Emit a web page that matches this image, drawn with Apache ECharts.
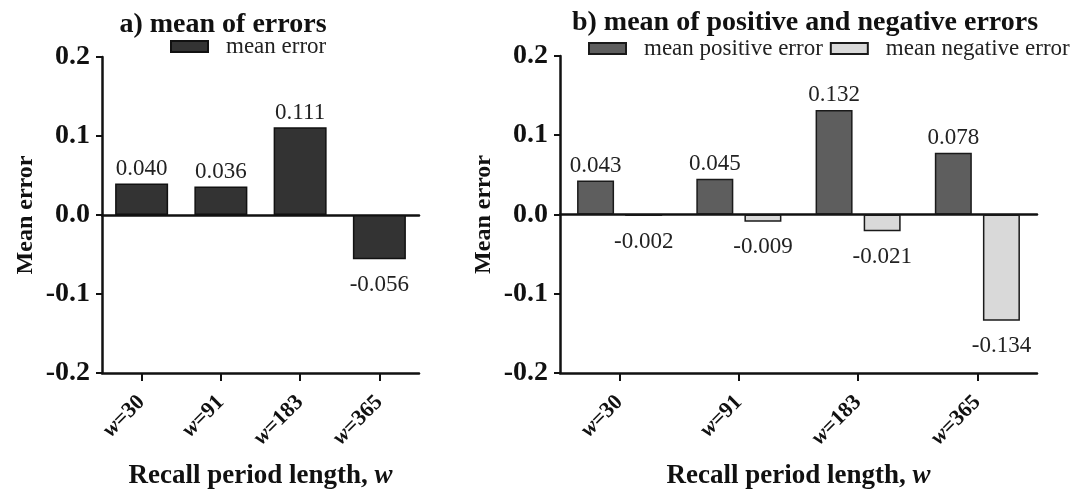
<!DOCTYPE html>
<html>
<head>
<meta charset="utf-8">
<script src="https://cdn.jsdelivr.net/npm/echarts@6/dist/echarts.min.js"></script>
<style>html,body{margin:0;padding:0;background:#fff}#c{width:1072px;height:495px}</style>
</head>
<body>
<div id="c"></div>
<script>
const categories = ['w=30', 'w=91', 'w=183', 'w=365'];
const meanError = [0.040, 0.036, 0.111, -0.056];
const meanPositiveError = [0.043, 0.045, 0.132, 0.078];
const meanNegativeError = [-0.002, -0.009, -0.021, -0.134];
const yTicks = { min: -0.2, max: 0.2, interval: 0.1 };

const FONT = "'Liberation Serif', 'Times New Roman', serif";
const chart = echarts.init(document.getElementById('c'), null, { renderer: 'canvas' });

function items(arr) {
  return arr.map(v => ({
    value: v,
    label: { position: v < 0 ? 'bottom' : 'top', distance: v < 0 ? 14 : 3 }
  }));
}
const catFormatter = v => '{i|' + v.split('=')[0] + '}{b|=' + v.split('=')[1] + '}';
const catRich = {
  i: { fontFamily: FONT, fontStyle: 'italic', fontWeight: 'bold', fontSize: 22, color: '#111' },
  b: { fontFamily: FONT, fontWeight: 'bold', fontSize: 22, color: '#111' }
};
const nameRich = {
  n: { fontFamily: FONT, fontWeight: 'bold', fontSize: 27, color: '#111' },
  i: { fontFamily: FONT, fontWeight: 'bold', fontStyle: 'italic', fontSize: 27, color: '#111' }
};

function yAxis(gridIndex) {
  return {
    type: 'value', gridIndex,
    min: yTicks.min, max: yTicks.max, interval: yTicks.interval,
    name: 'Mean error', nameLocation: 'middle', nameGap: 64,
    nameTextStyle: { fontFamily: FONT, fontWeight: 'bold', fontSize: 24, color: '#111' },
    axisLine: { show: true, lineStyle: { color: '#111', width: 2.5 } },
    axisTick: { show: true, length: 6, lineStyle: { color: '#111', width: 2 } },
    splitLine: { show: false },
    axisLabel: {
      margin: 12, fontFamily: FONT, fontWeight: 'bold', fontSize: 28, color: '#111',
      formatter: v => v.toFixed(1)
    }
  };
}
function zeroAxis(gridIndex) {
  return {
    type: 'category', gridIndex, data: categories,
    axisLine: { onZero: true, lineStyle: { color: '#111', width: 2.5 } },
    axisTick: { show: false }, axisLabel: { show: false }
  };
}
function bottomAxis(gridIndex) {
  return {
    type: 'category', gridIndex, data: categories, position: 'bottom',
    name: '{n|Recall period length, }{i|w}', nameLocation: 'middle', nameGap: 90,
    nameTextStyle: { rich: nameRich },
    axisLine: { onZero: false, lineStyle: { color: '#111', width: 2.5 } },
    axisTick: { show: true, alignWithLabel: true, length: 8, lineStyle: { color: '#111', width: 2 } },
    axisLabel: { rotate: 45, margin: 26, formatter: catFormatter, rich: catRich }
  };
}
const labelStyle = { show: true, fontFamily: FONT, fontSize: 23, color: '#222', formatter: p => p.value.toFixed(3) };
const legendText = { fontFamily: FONT, fontSize: 23, color: '#222', padding: [0, 0, 0, 13] };

chart.setOption({
  animation: false,
  backgroundColor: '#fff',
  title: [
    { text: 'a) mean of errors', left: 218, top: 6, textAlign: 'center',
      textStyle: { fontFamily: FONT, fontWeight: 'bold', fontSize: 28, color: '#111' } },
    { text: 'b) mean of positive and negative errors', left: 800, top: 4, textAlign: 'center',
      textStyle: { fontFamily: FONT, fontWeight: 'bold', fontSize: 28, color: '#111' } }
  ],
  legend: [
    { data: ['mean error'], left: 170, top: 35, padding: 0, icon: 'rect', itemWidth: 37, itemHeight: 11,
      textStyle: legendText },
    { data: ['mean positive error', 'mean negative error'], left: 588, top: 37, padding: 0, width: 484,
      icon: 'rect', itemWidth: 37, itemHeight: 11, itemGap: 7, textStyle: legendText }
  ],
  grid: [
    { left: 102, top: 57, width: 317, height: 317 },
    { left: 560, top: 56, width: 477, height: 318 }
  ],
  xAxis: [bottomAxis(0), zeroAxis(0), bottomAxis(1), zeroAxis(1)],
  yAxis: [yAxis(0), yAxis(1)],
  series: [
    { name: 'mean error', type: 'bar', xAxisIndex: 0, yAxisIndex: 0, barWidth: 53,
      itemStyle: { color: '#333333', borderColor: '#111', borderWidth: 1.5 },
      label: labelStyle, data: items(meanError) },
    { name: 'mean positive error', type: 'bar', xAxisIndex: 2, yAxisIndex: 1, barWidth: 37, barGap: '30%',
      itemStyle: { color: '#5e5e5e', borderColor: '#1a1a1a', borderWidth: 1.5 },
      label: labelStyle, data: items(meanPositiveError) },
    { name: 'mean negative error', type: 'bar', xAxisIndex: 2, yAxisIndex: 1, barWidth: 37, barGap: '30%',
      itemStyle: { color: '#d9d9d9', borderColor: '#1a1a1a', borderWidth: 1.5 },
      label: labelStyle, data: items(meanNegativeError) }
  ]
});
</script>
</body>
</html>
